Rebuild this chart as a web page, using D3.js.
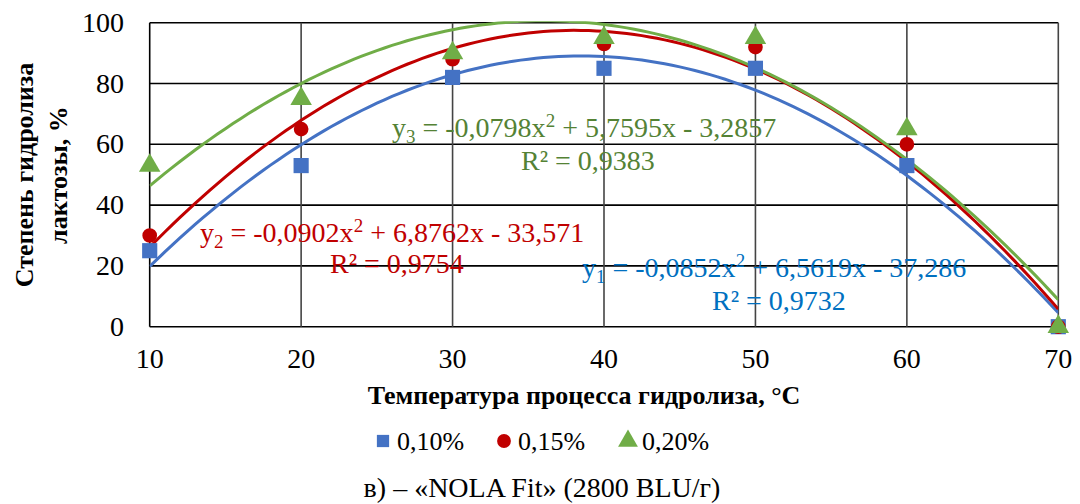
<!DOCTYPE html>
<html>
<head>
<meta charset="utf-8">
<script src="https://cdn.jsdelivr.net/npm/d3@7"></script>
</head>
<body style="margin:0">
<div id="chart"></div>
<script>
const w = 1080;
const h = 504;

// data
const temps = [10, 20, 30, 40, 50, 60, 70];
const s010 = [25, 53, 82, 85, 85, 53, 0];
const s015 = [30, 65, 88, 93, 92, 60, 0];
const s020 = [53, 75, 90, 95, 95, 65, 0];
const seriesNames = ["0,10%", "0,15%", "0,20%"];
// trendline coefficients (a, b, c) as printed on the chart
const fit010 = [-0.0852, 6.5619, -37.286];
const fit015 = [-0.0902, 6.8762, -33.571];
const fit020 = [-0.0798, 5.7595, -3.2857];
const yTicks = [0, 20, 40, 60, 80, 100];

const series = [
  { vals: s010, fit: fit010, color: "#4472C4", shape: "square", name: seriesNames[0] },
  { vals: s015, fit: fit015, color: "#C00000", shape: "circle", name: seriesNames[1] },
  { vals: s020, fit: fit020, color: "#70AD47", shape: "triangle", name: seriesNames[2] }
];

const pLeft = 149.7, pRight = 1058.3, pTop = 22.7, pBottom = 326.7;

const x = d3.scaleLinear().domain([10, 70]).range([pLeft, pRight]);
const y = d3.scaleLinear().domain([0, 100]).range([pBottom, pTop]);

const svg = d3.select("#chart").append("svg")
  .attr("width", w).attr("height", h);

// every text gets the serif face set on itself
function txt(parent, size, weight) {
  return parent.append("text")
    .attr("style", "font-family: 'Times New Roman'; font-size: " + size + "px; font-weight: " + (weight || "normal"));
}

svg.append("defs").append("clipPath").attr("id", "plot")
  .append("rect").attr("x", pLeft).attr("y", pTop - 1.5)
  .attr("width", pRight - pLeft).attr("height", pBottom - pTop + 3);

// grid
const grid = svg.append("g");
grid.selectAll(".hg").data(yTicks).enter().append("line")
  .attr("x1", pLeft).attr("x2", pRight)
  .attr("y1", d => y(d)).attr("y2", d => y(d))
  .attr("stroke", "#000").attr("stroke-width", 1.6);
grid.selectAll(".vg").data(temps).enter().append("line")
  .attr("y1", pTop).attr("y2", pBottom)
  .attr("x1", d => x(d)).attr("x2", d => x(d))
  .attr("stroke", d => (d === 10 ? "#000" : "#444")).attr("stroke-width", 1.6);

// tick labels
const tickG = svg.append("g");
yTicks.forEach(d => {
  txt(tickG, 28).attr("x", 124).attr("y", y(d) + 9)
    .attr("text-anchor", "end").text(d);
});
temps.forEach(d => {
  txt(tickG, 28).attr("x", x(d)).attr("y", 368)
    .attr("text-anchor", "middle").text(d);
});

// trendlines
const xs = d3.range(10, 70.01, 0.5);
const line = d3.line().x(d => x(d[0])).y(d => y(d[1]));
const lines = svg.append("g").attr("clip-path", "url(#plot)");
series.forEach(s => {
  const pts = xs.map(t => [t, s.fit[0] * t * t + s.fit[1] * t + s.fit[2]]);
  lines.append("path").attr("d", line(pts))
    .attr("fill", "none").attr("stroke", s.color).attr("stroke-width", 3);
});

// markers
const symSize = { square: 230, circle: 170, triangle: 200 };
const symType = { square: d3.symbolSquare, circle: d3.symbolCircle, triangle: d3.symbolTriangle };
series.forEach(s => {
  svg.append("g").selectAll("path").data(s.vals).enter().append("path")
    .attr("d", d3.symbol().type(symType[s.shape]).size(symSize[s.shape]))
    .attr("transform", (d, i) => "translate(" + x(temps[i]) + "," + y(d) + ")")
    .attr("fill", s.color);
});

// equation labels
function eq(sub, fit, color, ex, ey) {
  const fmt = v => Math.abs(v).toString().replace(".", ",");
  const t = txt(svg, 28).attr("x", ex).attr("y", ey).attr("fill", color);
  t.append("tspan").text("y");
  t.append("tspan").attr("font-size", 19).attr("dy", 6).text(sub);
  t.append("tspan").attr("dy", -6).text(" = -" + fmt(fit[0]) + "x");
  t.append("tspan").attr("font-size", 19).attr("dy", -10).text("2");
  t.append("tspan").attr("dy", 10).text(" + " + fmt(fit[1]) + "x - " + fmt(fit[2]));
}
function r2(label, color, rx, ry) {
  txt(svg, 28).attr("x", rx).attr("y", ry).attr("fill", color).text(label);
}
eq("3", fit020, "#548235", 392, 137);
r2("R² = 0,9383", "#548235", 521, 170);
eq("2", fit015, "#C00000", 200, 242);
r2("R² = 0,9754", "#C00000", 330, 273);
eq("1", fit010, "#0070C0", 582, 277);
r2("R² = 0,9732", "#0070C0", 712, 310);

// axis titles
txt(svg, 26, "bold").attr("x", 584).attr("y", 404)
  .attr("text-anchor", "middle")
  .text("Температура процесса гидролиза, °C");
txt(svg, 26, "bold").attr("transform", "translate(33,175) rotate(-90)")
  .attr("text-anchor", "middle")
  .text("Степень гидролиза");
txt(svg, 26, "bold").attr("transform", "translate(67,175) rotate(-90)")
  .attr("text-anchor", "middle")
  .text("лактозы, %");

// legend
const legX = [383, 504, 628];
const lg = svg.append("g");
series.forEach((s, i) => {
  lg.append("path")
    .attr("d", d3.symbol().type(symType[s.shape]).size(s.shape === "triangle" ? 170 : 150))
    .attr("transform", "translate(" + legX[i] + ",441)").attr("fill", s.color);
  txt(lg, 26).attr("x", legX[i] + 14).attr("y", 450).text(s.name);
});

// caption
txt(svg, 28).attr("x", 542).attr("y", 497).attr("text-anchor", "middle")
  .text("в) – «NOLA Fit» (2800 BLU/г)");
</script>
</body>
</html>
